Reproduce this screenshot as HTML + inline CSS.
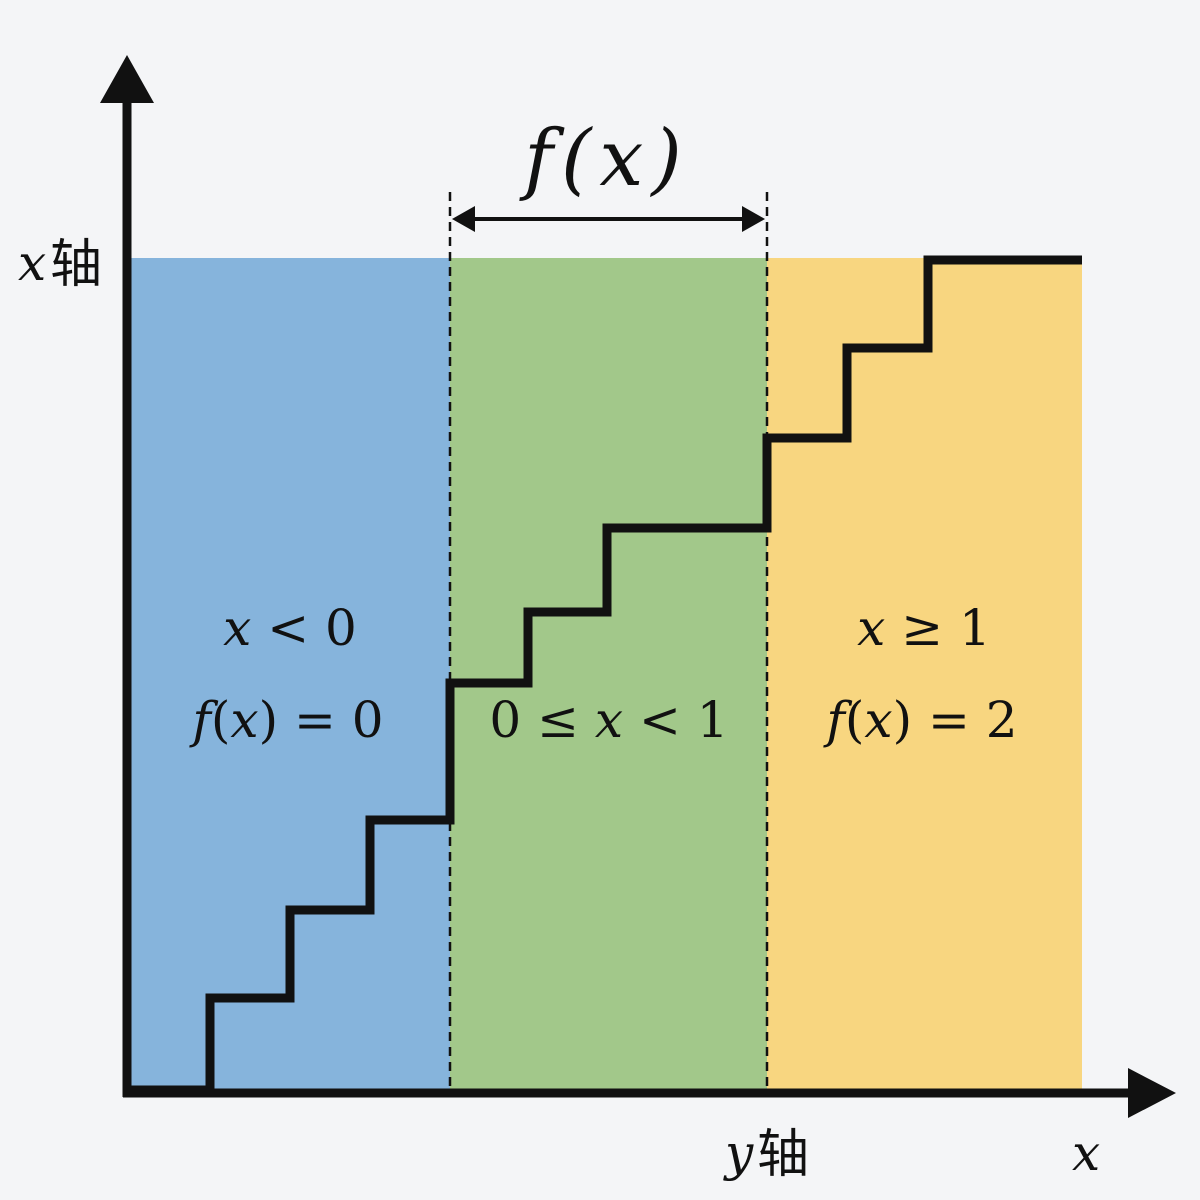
<!DOCTYPE html>
<html><head><meta charset="utf-8"><style>
html,body{margin:0;padding:0;background:#f4f5f7;}
svg{display:block}
text{font-family:"DejaVu Serif","Liberation Serif","Noto Serif CJK SC",serif;fill:#111}
.cj{font-family:"Noto Sans CJK SC","WenQuanYi Zen Hei",sans-serif}
</style></head><body>
<svg width="1200" height="1200" viewBox="0 0 1200 1200" xmlns="http://www.w3.org/2000/svg">
<rect width="1200" height="1200" fill="#f4f5f7"/>
<rect x="131" y="258" width="319" height="832" fill="#86b4dc"/>
<rect x="450" y="258" width="317" height="832" fill="#a2c88a"/>
<rect x="767" y="258" width="315" height="832" fill="#f8d680"/>
<line x1="450" y1="192" x2="450" y2="1090" stroke="#111" stroke-width="2.5" stroke-dasharray="9,6"/>
<line x1="767" y1="192" x2="767" y2="1090" stroke="#111" stroke-width="2.5" stroke-dasharray="9,6"/>
<line x1="470" y1="219" x2="747" y2="219" stroke="#111" stroke-width="4"/>
<polygon points="452,219 475,206 475,232" fill="#111"/>
<polygon points="765,219 742,206 742,232" fill="#111"/>
<polyline points="131,1090 210,1090 210,998 290,998 290,910 370,910 370,820 450,820 450,683 528,683 528,612 607,612 607,528 767,528 767,438 847,438 847,348 928,348 928,260 1082,260" fill="none" stroke="#111" stroke-width="9" stroke-linejoin="miter"/>
<line x1="127" y1="95" x2="127" y2="1097" stroke="#111" stroke-width="9"/>
<polygon points="127,55 100,103 154,103" fill="#111"/>
<line x1="123" y1="1093" x2="1145" y2="1093" stroke="#111" stroke-width="9"/>
<polygon points="1176,1093 1128,1068 1128,1118" fill="#111"/>
<text x="607" y="185" font-size="78" font-style="italic" text-anchor="middle" letter-spacing="8">f(x)</text>
<text x="18" y="280" font-size="50" font-style="italic">x</text><text x="50" y="282" font-size="52" class="cj">轴</text>
<text x="725" y="1170" font-size="50" font-style="italic">y</text><text x="757" y="1172" font-size="52" class="cj">轴</text>
<text x="1072" y="1170" font-size="50" font-style="italic">x</text>
<text x="290" y="645" font-size="50" text-anchor="middle"><tspan font-style="italic">x</tspan> &lt; 0</text>
<text x="288" y="737" font-size="50" text-anchor="middle"><tspan font-style="italic">f</tspan>(<tspan font-style="italic">x</tspan>) = 0</text>
<text x="609" y="737" font-size="50" text-anchor="middle">0 ≤ <tspan font-style="italic">x</tspan> &lt; 1</text>
<text x="924" y="645" font-size="50" text-anchor="middle"><tspan font-style="italic">x</tspan> ≥ 1</text>
<text x="922" y="737" font-size="50" text-anchor="middle"><tspan font-style="italic">f</tspan>(<tspan font-style="italic">x</tspan>) = 2</text>
</svg>
</body></html>
